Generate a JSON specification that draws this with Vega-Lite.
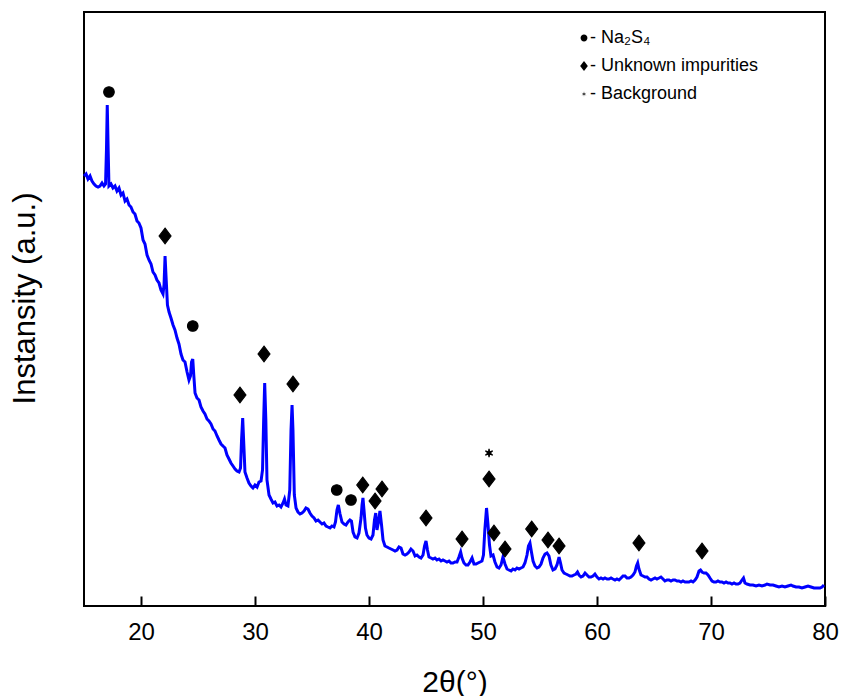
{
  "$schema": "https://vega.github.io/schema/vega-lite/v6.json",
  "width": 741,
  "height": 594,
  "autosize": {"type": "none"},
  "padding": {"left": 84, "top": 12, "right": 18, "bottom": 90},
  "background": "white",
  "config": {
    "view": {"stroke": "black", "strokeWidth": 2},
    "font": "Liberation Sans",
    "axis": {"labelFont": "Liberation Sans", "titleFont": "Liberation Sans", "titleFontWeight": "normal", "labelColor": "black", "titleColor": "black", "grid": false, "domain": false},
    "legend": {"labelFont": "Liberation Sans", "labelFontSize": 18, "labelColor": "black", "labelLimit": 0, "symbolSize": 121, "symbolFillColor": "black", "symbolStrokeColor": "black", "symbolStrokeWidth": 1.2, "rowPadding": 10, "labelOffset": -3, "padding": 0}
  },
  "datasets": {
    "pattern": [
      {"t":15.0,"i":430},{"t":15.18,"i":432},{"t":15.35,"i":427},{"t":15.53,"i":430},{"t":15.70,"i":425},{"t":15.88,"i":422},{"t":16.05,"i":420},{"t":16.23,"i":419},{"t":16.40,"i":420},{"t":16.58,"i":423},{"t":16.75,"i":420},{"t":16.89,"i":422},{"t":16.97,"i":456},{"t":17.04,"i":501},{"t":17.12,"i":456},{"t":17.19,"i":420},{"t":17.37,"i":422},{"t":17.54,"i":418},{"t":17.72,"i":420},{"t":17.89,"i":415},{"t":18.07,"i":418},{"t":18.25,"i":411},{"t":18.42,"i":413},{"t":18.60,"i":405},{"t":18.77,"i":407},{"t":18.95,"i":401},{"t":19.12,"i":399},{"t":19.30,"i":394},{"t":19.47,"i":392},{"t":19.65,"i":385},{"t":19.82,"i":383},{"t":20.0,"i":378},{"t":20.18,"i":366},{"t":20.35,"i":362},{"t":20.53,"i":351},{"t":20.70,"i":346},{"t":20.88,"i":342},{"t":21.05,"i":334},{"t":21.23,"i":331},{"t":21.40,"i":326},{"t":21.58,"i":323},{"t":21.75,"i":316},{"t":21.93,"i":312},{"t":22.02,"i":321},{"t":22.11,"i":350},{"t":22.19,"i":331},{"t":22.32,"i":301},{"t":22.46,"i":294},{"t":22.63,"i":288},{"t":22.81,"i":281},{"t":22.98,"i":276},{"t":23.16,"i":268},{"t":23.33,"i":262},{"t":23.51,"i":252},{"t":23.68,"i":246},{"t":23.86,"i":244},{"t":24.04,"i":234},{"t":24.21,"i":226},{"t":24.34,"i":230},{"t":24.43,"i":244},{"t":24.54,"i":247},{"t":24.63,"i":231},{"t":24.74,"i":213},{"t":24.91,"i":208},{"t":25.09,"i":206},{"t":25.26,"i":199},{"t":25.44,"i":195},{"t":25.61,"i":192},{"t":25.79,"i":187},{"t":25.96,"i":185},{"t":26.14,"i":182},{"t":26.32,"i":177},{"t":26.49,"i":175},{"t":26.67,"i":170},{"t":26.84,"i":166},{"t":27.02,"i":162},{"t":27.19,"i":160},{"t":27.37,"i":158},{"t":27.54,"i":151},{"t":27.72,"i":147},{"t":27.89,"i":143},{"t":28.07,"i":140},{"t":28.25,"i":137},{"t":28.42,"i":135},{"t":28.60,"i":134},{"t":28.73,"i":138},{"t":28.82,"i":166},{"t":28.92,"i":188},{"t":29.02,"i":161},{"t":29.12,"i":134},{"t":29.30,"i":128},{"t":29.47,"i":123},{"t":29.65,"i":120},{"t":29.82,"i":118},{"t":30.0,"i":121},{"t":30.18,"i":119},{"t":30.35,"i":124},{"t":30.53,"i":125},{"t":30.66,"i":136},{"t":30.76,"i":186},{"t":30.85,"i":223},{"t":30.95,"i":186},{"t":31.05,"i":126},{"t":31.23,"i":111},{"t":31.40,"i":107},{"t":31.58,"i":103},{"t":31.75,"i":104},{"t":31.93,"i":100},{"t":32.11,"i":101},{"t":32.28,"i":99},{"t":32.46,"i":103},{"t":32.59,"i":107},{"t":32.72,"i":101},{"t":32.89,"i":100},{"t":33.05,"i":116},{"t":33.16,"i":176},{"t":33.25,"i":201},{"t":33.33,"i":176},{"t":33.45,"i":111},{"t":33.60,"i":98},{"t":33.77,"i":94},{"t":33.95,"i":92},{"t":34.12,"i":93},{"t":34.30,"i":95},{"t":34.47,"i":98},{"t":34.65,"i":97},{"t":34.82,"i":93},{"t":35.0,"i":90},{"t":35.18,"i":88},{"t":35.35,"i":85},{"t":35.53,"i":86},{"t":35.70,"i":84},{"t":35.88,"i":82},{"t":36.05,"i":83},{"t":36.23,"i":80},{"t":36.40,"i":79},{"t":36.58,"i":78},{"t":36.75,"i":80},{"t":36.93,"i":79},{"t":37.06,"i":84},{"t":37.19,"i":96},{"t":37.31,"i":101},{"t":37.46,"i":92},{"t":37.63,"i":84},{"t":37.81,"i":82},{"t":37.98,"i":81},{"t":38.16,"i":84},{"t":38.33,"i":86},{"t":38.46,"i":85},{"t":38.60,"i":74},{"t":38.77,"i":69},{"t":38.95,"i":68},{"t":39.12,"i":73},{"t":39.30,"i":88},{"t":39.39,"i":101},{"t":39.47,"i":108},{"t":39.56,"i":96},{"t":39.69,"i":78},{"t":39.82,"i":71},{"t":40.0,"i":68},{"t":40.18,"i":67},{"t":40.35,"i":71},{"t":40.48,"i":86},{"t":40.59,"i":93},{"t":40.70,"i":76},{"t":40.83,"i":84},{"t":40.96,"i":95},{"t":41.10,"i":81},{"t":41.23,"i":66},{"t":41.40,"i":60},{"t":41.58,"i":59},{"t":41.75,"i":58},{"t":41.93,"i":57},{"t":42.11,"i":56},{"t":42.28,"i":55},{"t":42.46,"i":56},{"t":42.63,"i":59},{"t":42.81,"i":58},{"t":42.98,"i":52},{"t":43.16,"i":51},{"t":43.33,"i":52},{"t":43.51,"i":54},{"t":43.68,"i":57},{"t":43.86,"i":55},{"t":44.04,"i":50},{"t":44.21,"i":51},{"t":44.39,"i":49},{"t":44.56,"i":48},{"t":44.74,"i":51},{"t":44.87,"i":60},{"t":45.0,"i":65},{"t":45.13,"i":56},{"t":45.26,"i":49},{"t":45.44,"i":48},{"t":45.61,"i":47},{"t":45.79,"i":48},{"t":45.96,"i":46},{"t":46.14,"i":47},{"t":46.32,"i":45},{"t":46.49,"i":46},{"t":46.67,"i":45},{"t":46.84,"i":44},{"t":47.02,"i":45},{"t":47.19,"i":43},{"t":47.37,"i":43},{"t":47.54,"i":44},{"t":47.72,"i":44},{"t":47.89,"i":49},{"t":48.04,"i":54},{"t":48.16,"i":48},{"t":48.33,"i":43},{"t":48.51,"i":41},{"t":48.68,"i":41},{"t":48.86,"i":44},{"t":49.04,"i":48},{"t":49.21,"i":42},{"t":49.39,"i":42},{"t":49.56,"i":43},{"t":49.74,"i":44},{"t":49.91,"i":45},{"t":50.04,"i":51},{"t":50.16,"i":76},{"t":50.31,"i":98},{"t":50.44,"i":81},{"t":50.57,"i":61},{"t":50.70,"i":50},{"t":50.88,"i":51},{"t":51.05,"i":44},{"t":51.23,"i":39},{"t":51.40,"i":38},{"t":51.58,"i":41},{"t":51.75,"i":49},{"t":51.93,"i":42},{"t":52.11,"i":37},{"t":52.28,"i":36},{"t":52.46,"i":35},{"t":52.63,"i":37},{"t":52.81,"i":36},{"t":52.98,"i":38},{"t":53.16,"i":37},{"t":53.33,"i":38},{"t":53.51,"i":39},{"t":53.68,"i":43},{"t":53.86,"i":51},{"t":53.99,"i":60},{"t":54.12,"i":63},{"t":54.25,"i":54},{"t":54.39,"i":45},{"t":54.56,"i":40},{"t":54.74,"i":38},{"t":54.91,"i":39},{"t":55.09,"i":42},{"t":55.26,"i":48},{"t":55.44,"i":52},{"t":55.61,"i":53},{"t":55.79,"i":50},{"t":55.96,"i":41},{"t":56.14,"i":36},{"t":56.32,"i":37},{"t":56.49,"i":41},{"t":56.67,"i":49},{"t":56.80,"i":43},{"t":56.93,"i":36},{"t":57.11,"i":33},{"t":57.28,"i":32},{"t":57.46,"i":31},{"t":57.63,"i":30},{"t":57.81,"i":30},{"t":57.98,"i":31},{"t":58.16,"i":32},{"t":58.29,"i":34},{"t":58.42,"i":31},{"t":58.60,"i":29},{"t":58.77,"i":30},{"t":58.95,"i":33},{"t":59.12,"i":31},{"t":59.30,"i":29},{"t":59.47,"i":29},{"t":59.65,"i":30},{"t":59.82,"i":32},{"t":60.0,"i":29},{"t":60.18,"i":27},{"t":60.35,"i":28},{"t":60.53,"i":27},{"t":60.70,"i":28},{"t":60.88,"i":27},{"t":61.05,"i":27},{"t":61.23,"i":28},{"t":61.40,"i":27},{"t":61.58,"i":26},{"t":61.75,"i":27},{"t":61.93,"i":26},{"t":62.11,"i":28},{"t":62.28,"i":30},{"t":62.46,"i":30},{"t":62.63,"i":28},{"t":62.81,"i":28},{"t":62.98,"i":29},{"t":63.16,"i":31},{"t":63.33,"i":34},{"t":63.46,"i":40},{"t":63.57,"i":43},{"t":63.68,"i":37},{"t":63.86,"i":31},{"t":64.04,"i":30},{"t":64.21,"i":29},{"t":64.39,"i":29},{"t":64.56,"i":27},{"t":64.74,"i":26},{"t":64.91,"i":27},{"t":65.09,"i":28},{"t":65.26,"i":27},{"t":65.44,"i":28},{"t":65.61,"i":29},{"t":65.79,"i":27},{"t":65.96,"i":25},{"t":66.14,"i":26},{"t":66.32,"i":26},{"t":66.49,"i":25},{"t":66.67,"i":26},{"t":66.84,"i":26},{"t":67.02,"i":25},{"t":67.19,"i":25},{"t":67.37,"i":24},{"t":67.54,"i":25},{"t":67.72,"i":24},{"t":67.89,"i":24},{"t":68.07,"i":24},{"t":68.25,"i":25},{"t":68.42,"i":24},{"t":68.60,"i":26},{"t":68.77,"i":29},{"t":68.95,"i":35},{"t":69.08,"i":36},{"t":69.21,"i":34},{"t":69.39,"i":33},{"t":69.56,"i":33},{"t":69.74,"i":31},{"t":69.91,"i":28},{"t":70.09,"i":25},{"t":70.26,"i":24},{"t":70.44,"i":24},{"t":70.61,"i":25},{"t":70.79,"i":24},{"t":70.96,"i":24},{"t":71.14,"i":23},{"t":71.32,"i":24},{"t":71.49,"i":23},{"t":71.67,"i":23},{"t":71.84,"i":22},{"t":72.02,"i":23},{"t":72.19,"i":22},{"t":72.37,"i":22},{"t":72.54,"i":23},{"t":72.72,"i":26},{"t":72.85,"i":28},{"t":72.98,"i":23},{"t":73.16,"i":22},{"t":73.42,"i":21},{"t":73.68,"i":21},{"t":73.95,"i":20},{"t":74.21,"i":21},{"t":74.47,"i":20},{"t":74.74,"i":21},{"t":74.91,"i":22},{"t":75.18,"i":21},{"t":75.44,"i":21},{"t":75.70,"i":20},{"t":75.96,"i":19},{"t":76.23,"i":20},{"t":76.49,"i":19},{"t":76.75,"i":20},{"t":77.02,"i":21},{"t":77.19,"i":20},{"t":77.46,"i":19},{"t":77.72,"i":19},{"t":77.98,"i":18},{"t":78.25,"i":19},{"t":78.51,"i":20},{"t":78.77,"i":19},{"t":79.04,"i":18},{"t":79.30,"i":18},{"t":79.56,"i":18},{"t":79.74,"i":19},{"t":79.91,"i":21}
    ],
    "markers": [
      {"t":17.19,"i":514,"phase":"Na₂S₄"},
      {"t":24.54,"i":280,"phase":"Na₂S₄"},
      {"t":37.17,"i":116,"phase":"Na₂S₄"},
      {"t":38.42,"i":106,"phase":"Na₂S₄"},
      {"t":22.11,"i":370,"phase":"Unknown impurities"},
      {"t":28.68,"i":211,"phase":"Unknown impurities"},
      {"t":30.79,"i":252,"phase":"Unknown impurities"},
      {"t":33.33,"i":222,"phase":"Unknown impurities"},
      {"t":39.45,"i":121,"phase":"Unknown impurities"},
      {"t":40.53,"i":105,"phase":"Unknown impurities"},
      {"t":41.14,"i":117,"phase":"Unknown impurities"},
      {"t":45.0,"i":88,"phase":"Unknown impurities"},
      {"t":48.16,"i":67,"phase":"Unknown impurities"},
      {"t":50.53,"i":127,"phase":"Unknown impurities"},
      {"t":50.96,"i":73,"phase":"Unknown impurities"},
      {"t":51.93,"i":57,"phase":"Unknown impurities"},
      {"t":54.27,"i":77,"phase":"Unknown impurities"},
      {"t":55.70,"i":66,"phase":"Unknown impurities"},
      {"t":56.67,"i":60,"phase":"Unknown impurities"},
      {"t":63.68,"i":63,"phase":"Unknown impurities"},
      {"t":69.21,"i":55,"phase":"Unknown impurities"},
      {"t":50.53,"i":153,"phase":"Background"}
    ]
  },
  "layer": [
    {
      "data": {"name": "pattern"},
      "mark": {"type": "line", "color": "#0000ff", "strokeWidth": 3},
      "encoding": {
        "x": {"field": "t", "type": "quantitative", "scale": {"domain": [15, 80], "nice": false, "zero": false},
              "axis": {"title": "2θ(°)", "values": [20, 30, 40, 50, 60, 70, 80], "tickSize": -10, "tickWidth": 2, "tickColor": "black", "labelFontSize": 24, "labelPadding": 24, "titleFontSize": 30, "titlePadding": 23, "labelFlush": false}},
        "y": {"field": "i", "type": "quantitative", "scale": {"domain": [0, 594], "nice": false, "zero": false},
              "axis": {"title": "Instansity (a.u.)", "labels": false, "ticks": false, "titleFontSize": 31, "titlePadding": 43, "titleY": 286}}
      }
    },
    {
      "data": {"name": "markers"},
      "mark": {"type": "point", "filled": true, "color": "black", "fill": "black", "stroke": "black", "strokeWidth": 1.2, "size": 289, "opacity": 1},
      "encoding": {
        "x": {"field": "t", "type": "quantitative"},
        "y": {"field": "i", "type": "quantitative"},
        "shape": {"field": "phase", "type": "nominal",
                  "scale": {"domain": ["Na₂S₄", "Unknown impurities", "Background"],
                            "range": ["M0.62,0A0.62,0.62,0,1,1,-0.62,0A0.62,0.62,0,1,1,0.62,0Z", "M0,-0.92L0.7,0L0,0.92L-0.7,0Z", "M0,-0.5L0.06,-0.104L0.433,-0.25L0.12,0L0.433,0.25L0.06,0.104L0,0.5L-0.06,0.104L-0.433,0.25L-0.12,0L-0.433,-0.25L-0.06,-0.104Z"]},
                  "legend": {"title": null, "orient": "none", "legendX": 491, "legendY": 17, "labelExpr": "'- ' + datum.label",
                             "encode": {"symbols": {"update": {"stroke": {"value": "black"}, "strokeWidth": {"value": 1}, "fill": {"value": "black"}, "opacity": {"value": 1}}}}}}
      }
    }
  ]
}
